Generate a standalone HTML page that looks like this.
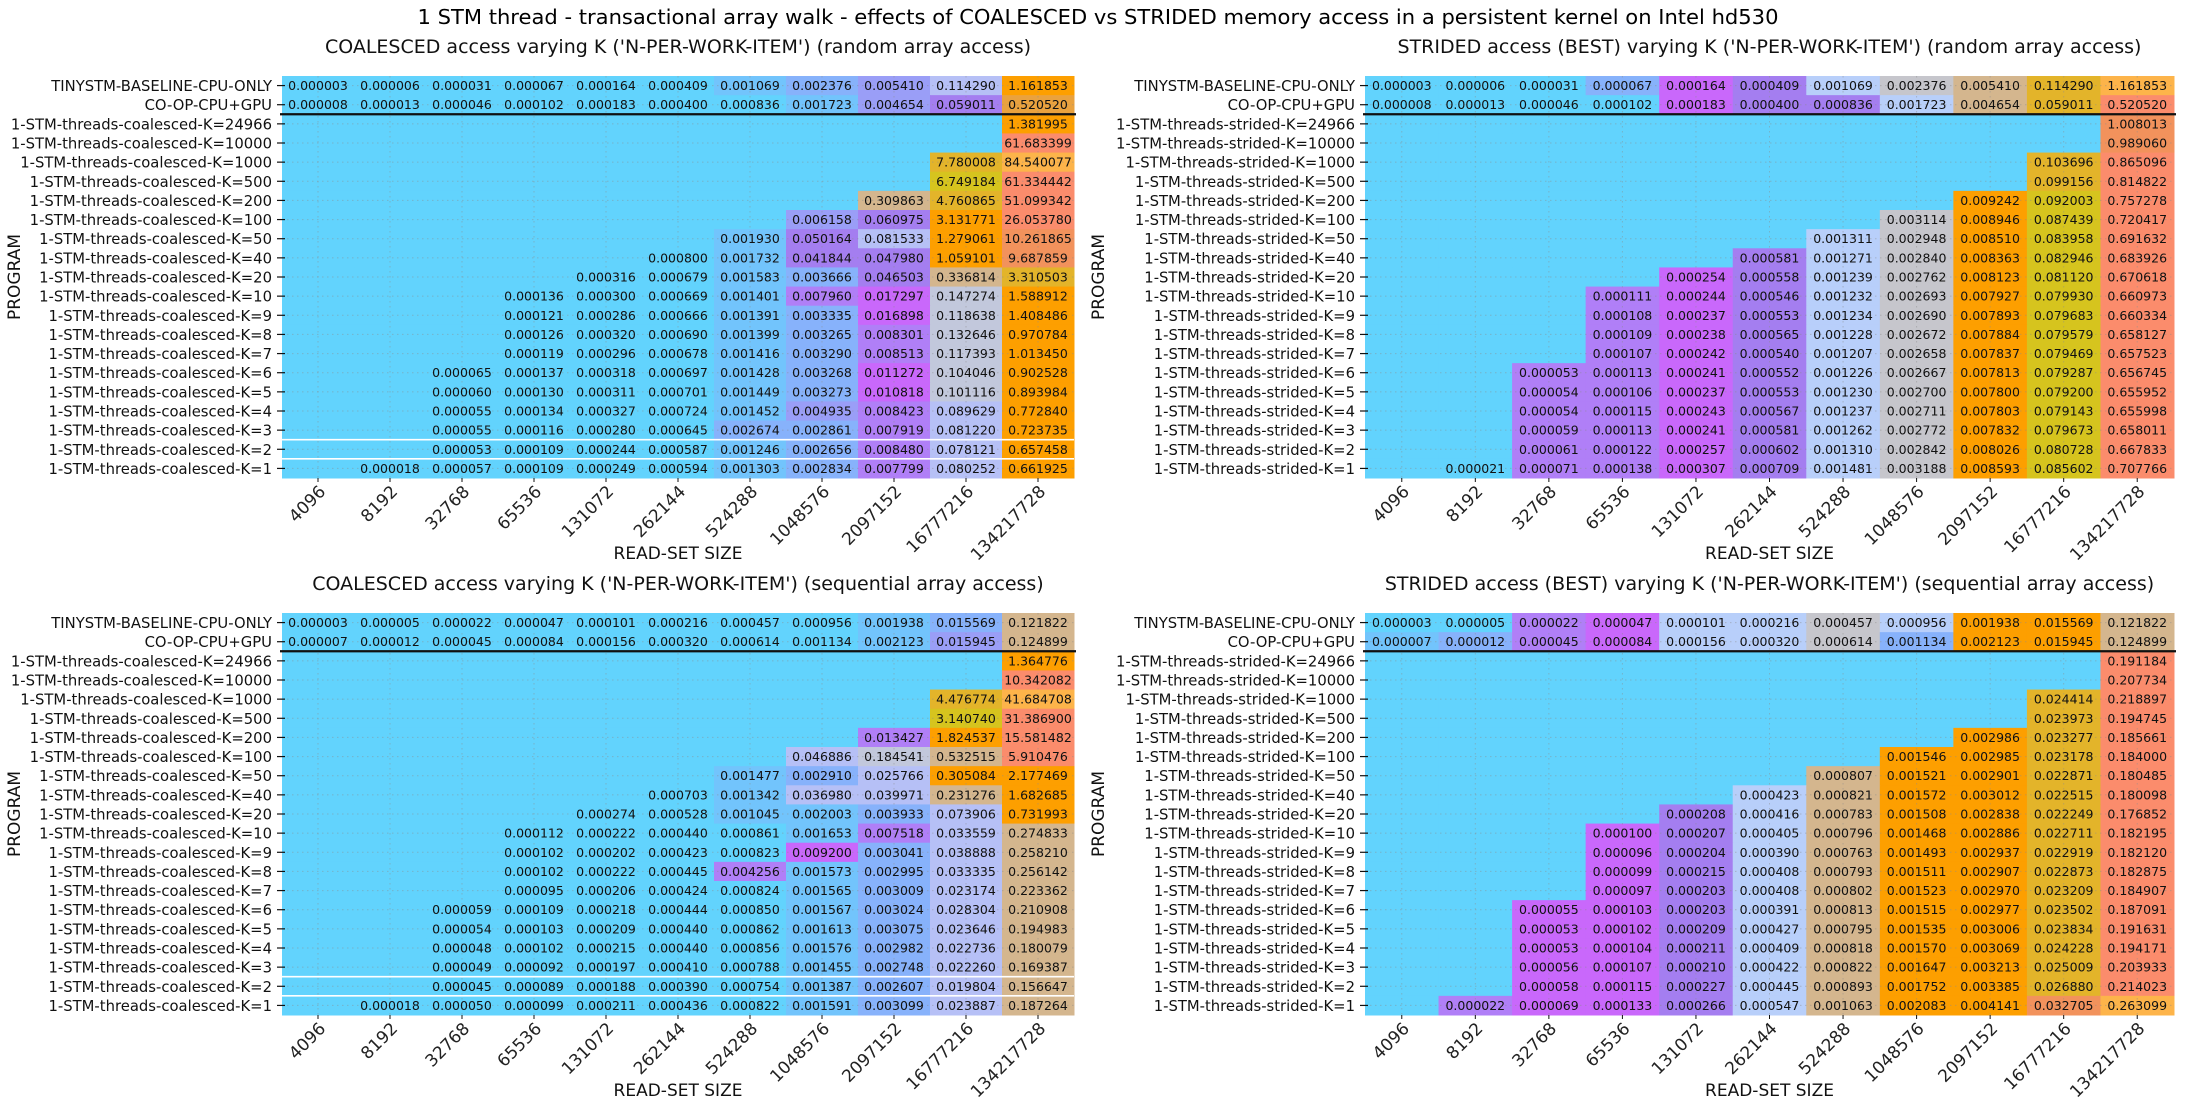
<!DOCTYPE html>
<html><head><meta charset="utf-8"><style>
html,body{margin:0;padding:0;background:#fff;}
svg{display:block;font-family:"DejaVu Sans","Liberation Sans",sans-serif;}
</style></head><body>
<svg id="chart" width="2196" height="1099" xmlns="http://www.w3.org/2000/svg">
<text x="1098" y="24" font-size="20" text-anchor="middle" textLength="1361" lengthAdjust="spacingAndGlyphs">1 STM thread - transactional array walk - effects of COALESCED vs STRIDED memory access in a persistent kernel on Intel hd530</text>
</svg>
<script>
const xCategories = ["4096","8192","32768","65536","131072","262144","524288","1048576","2097152","16777216","134217728"];
const kValues = ["24966","10000","1000","500","200","100","50","40","20","10","9","8","7","6","5","4","3","2","1"];
const baselineLabels = ["TINYSTM-BASELINE-CPU-ONLY","CO-OP-CPU+GPU"];
const N = null;
const valuesTL = [
[0.000003,0.000006,0.000031,0.000067,0.000164,0.000409,0.001069,0.002376,0.005410,0.114290,1.161853],
[0.000008,0.000013,0.000046,0.000102,0.000183,0.000400,0.000836,0.001723,0.004654,0.059011,0.520520],
[N,N,N,N,N,N,N,N,N,N,1.381995],
[N,N,N,N,N,N,N,N,N,N,61.683399],
[N,N,N,N,N,N,N,N,N,7.780008,84.540077],
[N,N,N,N,N,N,N,N,N,6.749184,61.334442],
[N,N,N,N,N,N,N,N,0.309863,4.760865,51.099342],
[N,N,N,N,N,N,N,0.006158,0.060975,3.131771,26.053780],
[N,N,N,N,N,N,0.001930,0.050164,0.081533,1.279061,10.261865],
[N,N,N,N,N,0.000800,0.001732,0.041844,0.047980,1.059101,9.687859],
[N,N,N,N,0.000316,0.000679,0.001583,0.003666,0.046503,0.336814,3.310503],
[N,N,N,0.000136,0.000300,0.000669,0.001401,0.007960,0.017297,0.147274,1.588912],
[N,N,N,0.000121,0.000286,0.000666,0.001391,0.003335,0.016898,0.118638,1.408486],
[N,N,N,0.000126,0.000320,0.000690,0.001399,0.003265,0.008301,0.132646,0.970784],
[N,N,N,0.000119,0.000296,0.000678,0.001416,0.003290,0.008513,0.117393,1.013450],
[N,N,0.000065,0.000137,0.000318,0.000697,0.001428,0.003268,0.011272,0.104046,0.902528],
[N,N,0.000060,0.000130,0.000311,0.000701,0.001449,0.003273,0.010818,0.101116,0.893984],
[N,N,0.000055,0.000134,0.000327,0.000724,0.001452,0.004935,0.008423,0.089629,0.772840],
[N,N,0.000055,0.000116,0.000280,0.000645,0.002674,0.002861,0.007919,0.081220,0.723735],
[N,N,0.000053,0.000109,0.000244,0.000587,0.001246,0.002656,0.008480,0.078121,0.657458],
[N,0.000018,0.000057,0.000109,0.000249,0.000594,0.001303,0.002834,0.007799,0.080252,0.661925]];
const valuesTR = [
[0.000003,0.000006,0.000031,0.000067,0.000164,0.000409,0.001069,0.002376,0.005410,0.114290,1.161853],
[0.000008,0.000013,0.000046,0.000102,0.000183,0.000400,0.000836,0.001723,0.004654,0.059011,0.520520],
[N,N,N,N,N,N,N,N,N,N,1.008013],
[N,N,N,N,N,N,N,N,N,N,0.989060],
[N,N,N,N,N,N,N,N,N,0.103696,0.865096],
[N,N,N,N,N,N,N,N,N,0.099156,0.814822],
[N,N,N,N,N,N,N,N,0.009242,0.092003,0.757278],
[N,N,N,N,N,N,N,0.003114,0.008946,0.087439,0.720417],
[N,N,N,N,N,N,0.001311,0.002948,0.008510,0.083958,0.691632],
[N,N,N,N,N,0.000581,0.001271,0.002840,0.008363,0.082946,0.683926],
[N,N,N,N,0.000254,0.000558,0.001239,0.002762,0.008123,0.081120,0.670618],
[N,N,N,0.000111,0.000244,0.000546,0.001232,0.002693,0.007927,0.079930,0.660973],
[N,N,N,0.000108,0.000237,0.000553,0.001234,0.002690,0.007893,0.079683,0.660334],
[N,N,N,0.000109,0.000238,0.000565,0.001228,0.002672,0.007884,0.079579,0.658127],
[N,N,N,0.000107,0.000242,0.000540,0.001207,0.002658,0.007837,0.079469,0.657523],
[N,N,0.000053,0.000113,0.000241,0.000552,0.001226,0.002667,0.007813,0.079287,0.656745],
[N,N,0.000054,0.000106,0.000237,0.000553,0.001230,0.002700,0.007800,0.079200,0.655952],
[N,N,0.000054,0.000115,0.000243,0.000567,0.001237,0.002711,0.007803,0.079143,0.655998],
[N,N,0.000059,0.000113,0.000241,0.000581,0.001262,0.002772,0.007832,0.079673,0.658011],
[N,N,0.000061,0.000122,0.000257,0.000602,0.001310,0.002842,0.008026,0.080728,0.667833],
[N,0.000021,0.000071,0.000138,0.000307,0.000709,0.001481,0.003188,0.008593,0.085602,0.707766]];
const valuesBL = [
[0.000003,0.000005,0.000022,0.000047,0.000101,0.000216,0.000457,0.000956,0.001938,0.015569,0.121822],
[0.000007,0.000012,0.000045,0.000084,0.000156,0.000320,0.000614,0.001134,0.002123,0.015945,0.124899],
[N,N,N,N,N,N,N,N,N,N,1.364776],
[N,N,N,N,N,N,N,N,N,N,10.342082],
[N,N,N,N,N,N,N,N,N,4.476774,41.684708],
[N,N,N,N,N,N,N,N,N,3.140740,31.386900],
[N,N,N,N,N,N,N,N,0.013427,1.824537,15.581482],
[N,N,N,N,N,N,N,0.046886,0.184541,0.532515,5.910476],
[N,N,N,N,N,N,0.001477,0.002910,0.025766,0.305084,2.177469],
[N,N,N,N,N,0.000703,0.001342,0.036980,0.039971,0.231276,1.682685],
[N,N,N,N,0.000274,0.000528,0.001045,0.002003,0.003933,0.073906,0.731993],
[N,N,N,0.000112,0.000222,0.000440,0.000861,0.001653,0.007518,0.033559,0.274833],
[N,N,N,0.000102,0.000202,0.000423,0.000823,0.009200,0.003041,0.038888,0.258210],
[N,N,N,0.000102,0.000222,0.000445,0.004256,0.001573,0.002995,0.033335,0.256142],
[N,N,N,0.000095,0.000206,0.000424,0.000824,0.001565,0.003009,0.023174,0.223362],
[N,N,0.000059,0.000109,0.000218,0.000444,0.000850,0.001567,0.003024,0.028304,0.210908],
[N,N,0.000054,0.000103,0.000209,0.000440,0.000862,0.001613,0.003075,0.023646,0.194983],
[N,N,0.000048,0.000102,0.000215,0.000440,0.000856,0.001576,0.002982,0.022736,0.180079],
[N,N,0.000049,0.000092,0.000197,0.000410,0.000788,0.001455,0.002748,0.022260,0.169387],
[N,N,0.000045,0.000089,0.000188,0.000390,0.000754,0.001387,0.002607,0.019804,0.156647],
[N,0.000018,0.000050,0.000099,0.000211,0.000436,0.000822,0.001591,0.003099,0.023887,0.187264]];
const valuesBR = [
[0.000003,0.000005,0.000022,0.000047,0.000101,0.000216,0.000457,0.000956,0.001938,0.015569,0.121822],
[0.000007,0.000012,0.000045,0.000084,0.000156,0.000320,0.000614,0.001134,0.002123,0.015945,0.124899],
[N,N,N,N,N,N,N,N,N,N,0.191184],
[N,N,N,N,N,N,N,N,N,N,0.207734],
[N,N,N,N,N,N,N,N,N,0.024414,0.218897],
[N,N,N,N,N,N,N,N,N,0.023973,0.194745],
[N,N,N,N,N,N,N,N,0.002986,0.023277,0.185661],
[N,N,N,N,N,N,N,0.001546,0.002985,0.023178,0.184000],
[N,N,N,N,N,N,0.000807,0.001521,0.002901,0.022871,0.180485],
[N,N,N,N,N,0.000423,0.000821,0.001572,0.003012,0.022515,0.180098],
[N,N,N,N,0.000208,0.000416,0.000783,0.001508,0.002838,0.022249,0.176852],
[N,N,N,0.000100,0.000207,0.000405,0.000796,0.001468,0.002886,0.022711,0.182195],
[N,N,N,0.000096,0.000204,0.000390,0.000763,0.001493,0.002937,0.022919,0.182120],
[N,N,N,0.000099,0.000215,0.000408,0.000793,0.001511,0.002907,0.022873,0.182875],
[N,N,N,0.000097,0.000203,0.000408,0.000802,0.001523,0.002970,0.023209,0.184907],
[N,N,0.000055,0.000103,0.000203,0.000391,0.000813,0.001515,0.002977,0.023502,0.187091],
[N,N,0.000053,0.000102,0.000209,0.000427,0.000795,0.001535,0.003006,0.023834,0.191631],
[N,N,0.000053,0.000104,0.000211,0.000409,0.000818,0.001570,0.003069,0.024228,0.194171],
[N,N,0.000056,0.000107,0.000210,0.000422,0.000822,0.001647,0.003213,0.025009,0.203933],
[N,N,0.000058,0.000115,0.000227,0.000445,0.000893,0.001752,0.003385,0.026880,0.214023],
[N,0.000022,0.000069,0.000133,0.000266,0.000547,0.001063,0.002083,0.004141,0.032705,0.263099]];
// colour category codes per cell (style)
const shadeTL = ["bbbbbbcpqlo","bbbbbbbcquO","..........o","..........r",".........gL",".........yr","........tgr",".......quor","......culoR",".....bcuuoR","....bbcputg","...bbbcvmso","...bbbcpmso","...bbbcpvso","...bbbcpvso","..bbbbcpmso","..bbbbcpmso","..bbbbcqvlo","..bbbbppvlo","..bbbbcpvlo",".bbbbbcpvlo"];
const shadeTR = ["bbbpmuwktgL","bbbbmuuwtgr","..........R","..........R",".........gr",".........gr","........oyr",".......koyr","......wkoyr",".....uwkoyr","....muwkoyr","...vmuwkoyr","...vmuwkoyr","...vmuwkoyr","...vmuwkoyr","..vvmuwkoyr","..vvmuwkoyr","..vvmuwkoyr","..vvmuwkoyr","..vvmuwkoyr",".bvvmuwkoyr"];
const shadeBL = ["bbbbbbbbcpt","bbbbbbbbcqt","..........o","..........r",".........gL",".........yr","........vor",".......lstr","......cploo",".....bcllto","....bbccplo","...bbbbcvlt","...bbbbmplt","...bbbvcplt","...bbbbcplt","..bbbbbcplt","..bbbbbcplt","..bbbbbcplt","..bbbbbcplt","..bbbbbcplt",".bbbbbbcplt"];
const shadeBR = ["bbvmwwkwoot","cpvmwwkpoot","..........r","..........r",".........gr",".........gr","........ogr",".......oogr","......toogr",".....wtoogr","....uwtoogr","...muwtoogr","...muwtoogr","...muwtoogr","...muwtoogr","..mmuwtoogr","..mmuwtoogr","..mmuwtoogr","..mmuwtoogr","..mmuwtoogr",".vmmuwtooRL"];
const palette = {'.':'#62d3fd',b:'#62d3fd',c:'#72c4fc',p:'#87b2fb',q:'#9a9ef7',v:'#b07ff7',m:'#c968fb',u:'#a47ef0',l:'#b6c0f6',s:'#c2c8dc',k:'#c6c6cc',w:'#b8cffa',t:'#d4b68e',o:'#fd9f00',O:'#eaa23e',g:'#e3b42a',y:'#d6c41e',r:'#fb8c6c',R:'#f2925c',L:'#fdb44a'};

const NS = "http://www.w3.org/2000/svg";
const svg = document.getElementById('chart');
function mk(tag, attrs, parent){const e=document.createElementNS(NS,tag);for(const k in attrs)e.setAttribute(k,attrs[k]);(parent||svg).appendChild(e);return e;}

function drawPanel(key, x0, x1, y0, y1, title, mode, values, shades){
  const g = mk('g',{});
  
  
  const nC = xCategories.length, nR = values.length;
  const cw = (x1-x0)/nC, rh = (y1-y0)/nR;
  const xPos = i => x0 + i*cw;
  const yPos = j => y0 + j*rh;
  const rowLabels = baselineLabels.concat(kValues.map(k => '1-STM-threads-'+mode+'-K='+k));
  mk('rect',{x:x0,y:y0,width:x1-x0,height:y1-y0,fill:palette.b},g);
  for(let j=0;j<nR;j++){
    for(let i=0;i<nC;i++){
      const code = shades[j][i];
      const r = mk('rect',{x:xPos(i),y:yPos(j),width:cw+0.5,height:rh+0.5,fill:palette[code]},g);
      
      
    }
  }
  for(let i=0;i<nC;i++){
    mk('line',{x1:xPos(i)+cw/2,x2:xPos(i)+cw/2,y1:y0,y2:y1,stroke:'rgba(140,140,140,0.45)','stroke-width':1,'stroke-dasharray':'1.5,3.5'},g);
  }
  for(let j=0;j<nR;j++){
    mk('line',{x1:x0,x2:x1,y1:yPos(j)+rh/2,y2:yPos(j)+rh/2,stroke:'rgba(140,140,140,0.45)','stroke-width':1,'stroke-dasharray':'1.5,3.5'},g);
  }
  for(let j=0;j<nR;j++){
    for(let i=0;i<nC;i++){
      const v = values[j][i];
      if(v===null) continue;
      const t = mk('text',{x:xPos(i)+cw/2,y:yPos(j)+rh/2+4.5,'font-size':12.5,'text-anchor':'middle',fill:'#111'},g);
      t.textContent = v.toFixed(6);
      
      
    }
    const lbl = mk('text',{x:x0-10,y:yPos(j)+rh/2+5.5,'font-size':14.8,'text-anchor':'end',fill:'#111'},g);
    lbl.textContent = rowLabels[j];
    
    
    mk('line',{x1:x0-5,x2:x0+3,y1:yPos(j)+rh/2,y2:yPos(j)+rh/2,stroke:'#111','stroke-width':1.2},g);
  }
  const sep = mk('line',{x1:x0-2,x2:x1+2,y1:yPos(2),y2:yPos(2),stroke:'#111','stroke-width':2.2},g);
  
  
  if(mode==='coalesced'){
    mk('line',{x1:x0,x2:x1,y1:yPos(nR-2),y2:yPos(nR-2),stroke:'#fff','stroke-width':1.6},g);
    mk('line',{x1:x0,x2:x1,y1:yPos(nR-1),y2:yPos(nR-1),stroke:'#fff','stroke-width':1.6},g);
  }
  for(let i=0;i<nC;i++){
    const cx = xPos(i)+cw/2, ty = y1+9;
    mk('line',{x1:cx,x2:cx,y1:y1,y2:y1+4,stroke:'#111','stroke-width':1},g);
    const t = mk('text',{x:cx+2,y:ty+10,'font-size':17,'text-anchor':'end',fill:'#222',transform:'rotate(-45 '+cx+' '+ty+')'},g);
    t.textContent = xCategories[i];
    
    
  }
  const xl = mk('text',{x:(x0+x1)/2,y:y1+81,'font-size':17,'text-anchor':'middle',fill:'#111'},g);
  xl.textContent = 'READ-SET SIZE';
  
  
  const yx = (x0<700)?20:1104, yc=(y0+y1)/2;
  const yl = mk('text',{x:yx,y:yc,'font-size':17,'text-anchor':'middle',fill:'#111',transform:'rotate(-90 '+yx+' '+yc+')'},g);
  yl.textContent = 'PROGRAM';
  
  
  const tt = mk('text',{x:(x0+x1)/2,y:y0-23,'font-size':19,'text-anchor':'middle',fill:'#111'},g);
  tt.textContent = title;
  
  
}
drawPanel('coalesced-random',282,1074,76,478,"COALESCED access varying K ('N-PER-WORK-ITEM') (random array access)",'coalesced',valuesTL,shadeTL);
drawPanel('strided-random',1365,2174,76,478,"STRIDED access (BEST) varying K ('N-PER-WORK-ITEM') (random array access)",'strided',valuesTR,shadeTR);
drawPanel('coalesced-sequential',282,1074,613,1015,"COALESCED access varying K ('N-PER-WORK-ITEM') (sequential array access)",'coalesced',valuesBL,shadeBL);
drawPanel('strided-sequential',1365,2174,613,1015,"STRIDED access (BEST) varying K ('N-PER-WORK-ITEM') (sequential array access)",'strided',valuesBR,shadeBR);
</script>
</body></html>
